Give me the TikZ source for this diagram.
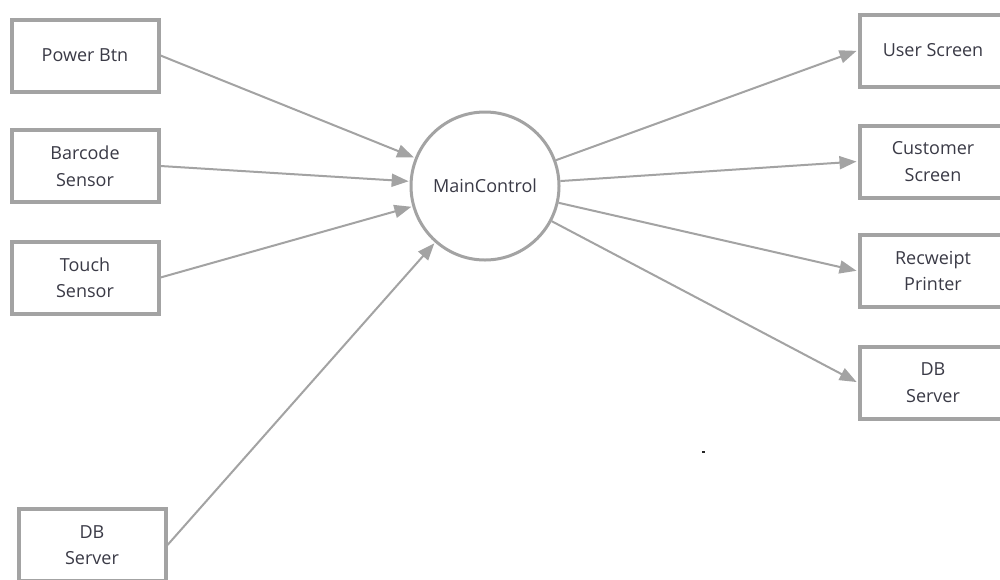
\documentclass[tikz,border=0pt]{standalone}
\usepackage{fontspec}
\setmainfont{Open Sans}
\usetikzlibrary{arrows.meta,calc}
\definecolor{edgegray}{RGB}{163,163,163}
\definecolor{txtgray}{RGB}{58,58,70}
\begin{document}
\begin{tikzpicture}[x=1pt,y=-1pt,
  blockbox/.style={draw=edgegray,line width=4pt,fill=white,minimum width=147pt,minimum height=72pt,
    align=center,text=txtgray,font=\fontsize{18}{26.5}\selectfont,inner sep=0pt},
  hub/.style={circle,draw=edgegray,line width=3pt,fill=white,minimum size=148pt,text=txtgray,
    font=\fontsize{18}{26.5}\selectfont,inner sep=0pt},
  flow/.style={draw=edgegray,line width=2pt,-{Triangle[length=17pt,width=13pt]},shorten >=1pt}]
\useasboundingbox (0,0) rectangle (1000,579);
\clip (0,0) rectangle (1000,579);
\fill[white] (0,0) rectangle (1000,579);
\node[hub] (mc) at (485,186) {MainControl};
\node[blockbox] (pb) at (85,55.5) {Power Btn};
\node[blockbox] (bs) at (85,166) {Barcode\\Sensor};
\node[blockbox] (ts) at (85,277.5) {Touch\\Sensor};
\node[blockbox] (dbl) at (92,545) {DB\\Server};
\node[blockbox] (us) at (933,50.5) {User Screen};
\node[blockbox] (cs) at (933,161.5) {Customer\\Screen};
\node[blockbox] (rp) at (933,271) {Recweipt\\Printer};
\node[blockbox] (dbr) at (933,382.5) {DB\\Server};
\draw[flow] (pb.east) -- (mc);
\draw[flow] (bs.east) -- (mc);
\draw[flow] (ts.east) -- (mc);
\draw[flow] (dbl.east) -- (mc);
\draw[flow] (mc) -- (us.west);
\draw[flow] (mc) -- (cs.west);
\draw[flow] (mc) -- (rp.west);
\draw[flow] (mc) -- (dbr.west);
\coordinate (dot) at (703,452);
\fill[black!85] ($(dot)+(-1.5,-1)$) rectangle ($(dot)+(1.5,1)$);
\end{tikzpicture}
\end{document}
